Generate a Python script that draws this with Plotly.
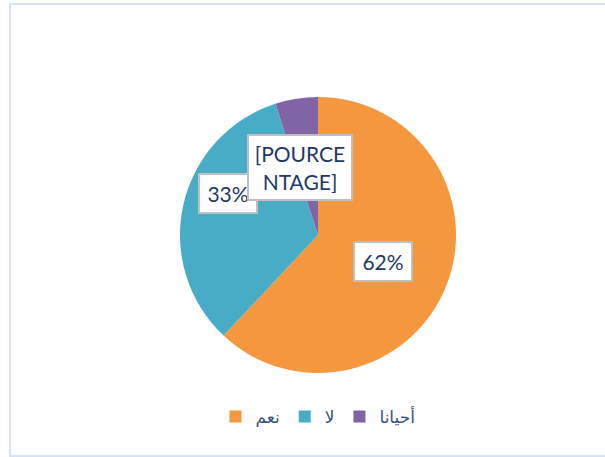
import plotly.graph_objects as go

# Data
categories = ["نعم", "لا", "أحيانا"]
values = [62, 33, 5]
label_texts = ["62%", "33%", "[POURCE<br>NTAGE]"]
colors = ["#F5973F", "#48ACC7", "#8064A6"]

W, H = 605, 457
cx, cy, r = 318, 235, 138

def px(x):
    return x / W

def py(y):
    return 1 - y / H

fig = go.Figure(
    go.Pie(
        labels=categories,
        values=values,
        sort=False,
        direction="clockwise",
        rotation=0,
        textinfo="none",
        hoverinfo="label+percent",
        marker=dict(colors=colors, line=dict(width=0)),
        domain=dict(
            x=[px(cx - r), px(cx + r)],
            y=[py(cy + r), py(cy - r)],
        ),
    )
)

label_boxes = [
    # (center x, center y, width, height)
    (382.5, 261, 44, 25),
    (228.5, 193.5, 44, 25),
    (300, 167.5, 90, 51),
]

annotations = []
for txt, (bx, by, bw, bh) in zip(label_texts, label_boxes):
    annotations.append(
        dict(
            x=px(bx), y=py(by), xref="paper", yref="paper",
            xanchor="center", yanchor="middle",
            text=txt, showarrow=False,
            font=dict(family="Lato, DejaVu Sans, sans-serif", size=21, color="#1F3864"),
            bgcolor="white", bordercolor="#BFBFBF", borderwidth=2, borderpad=6,
            width=bw, height=bh, align="center",
        )
    )

fig.update_layout(
    width=W, height=H,
    margin=dict(l=0, r=0, t=0, b=0),
    paper_bgcolor="white",
    plot_bgcolor="white",
    annotations=annotations,
    showlegend=True,
    legend=dict(
        orientation="h",
        x=px(318), xanchor="center",
        y=py(417), yanchor="middle",
        traceorder="normal",
        font=dict(family="DejaVu Sans, sans-serif", size=17, color="#34507A"),
        itemwidth=30,
    ),
    shapes=[
        dict(
            type="path", xref="paper", yref="paper",
            path=f"M 2,{py(4)} L {px(10)},{py(4)} L {px(10)},{py(456)} L 2,{py(456)}",
            line=dict(color="#D6E3F4", width=2),
            layer="below",
        )
    ],
)

fig.write_html(
    "out.html",
    config={"displayModeBar": False},
    post_script="document.body.style.margin='0';document.body.style.overflow='hidden';",
)
